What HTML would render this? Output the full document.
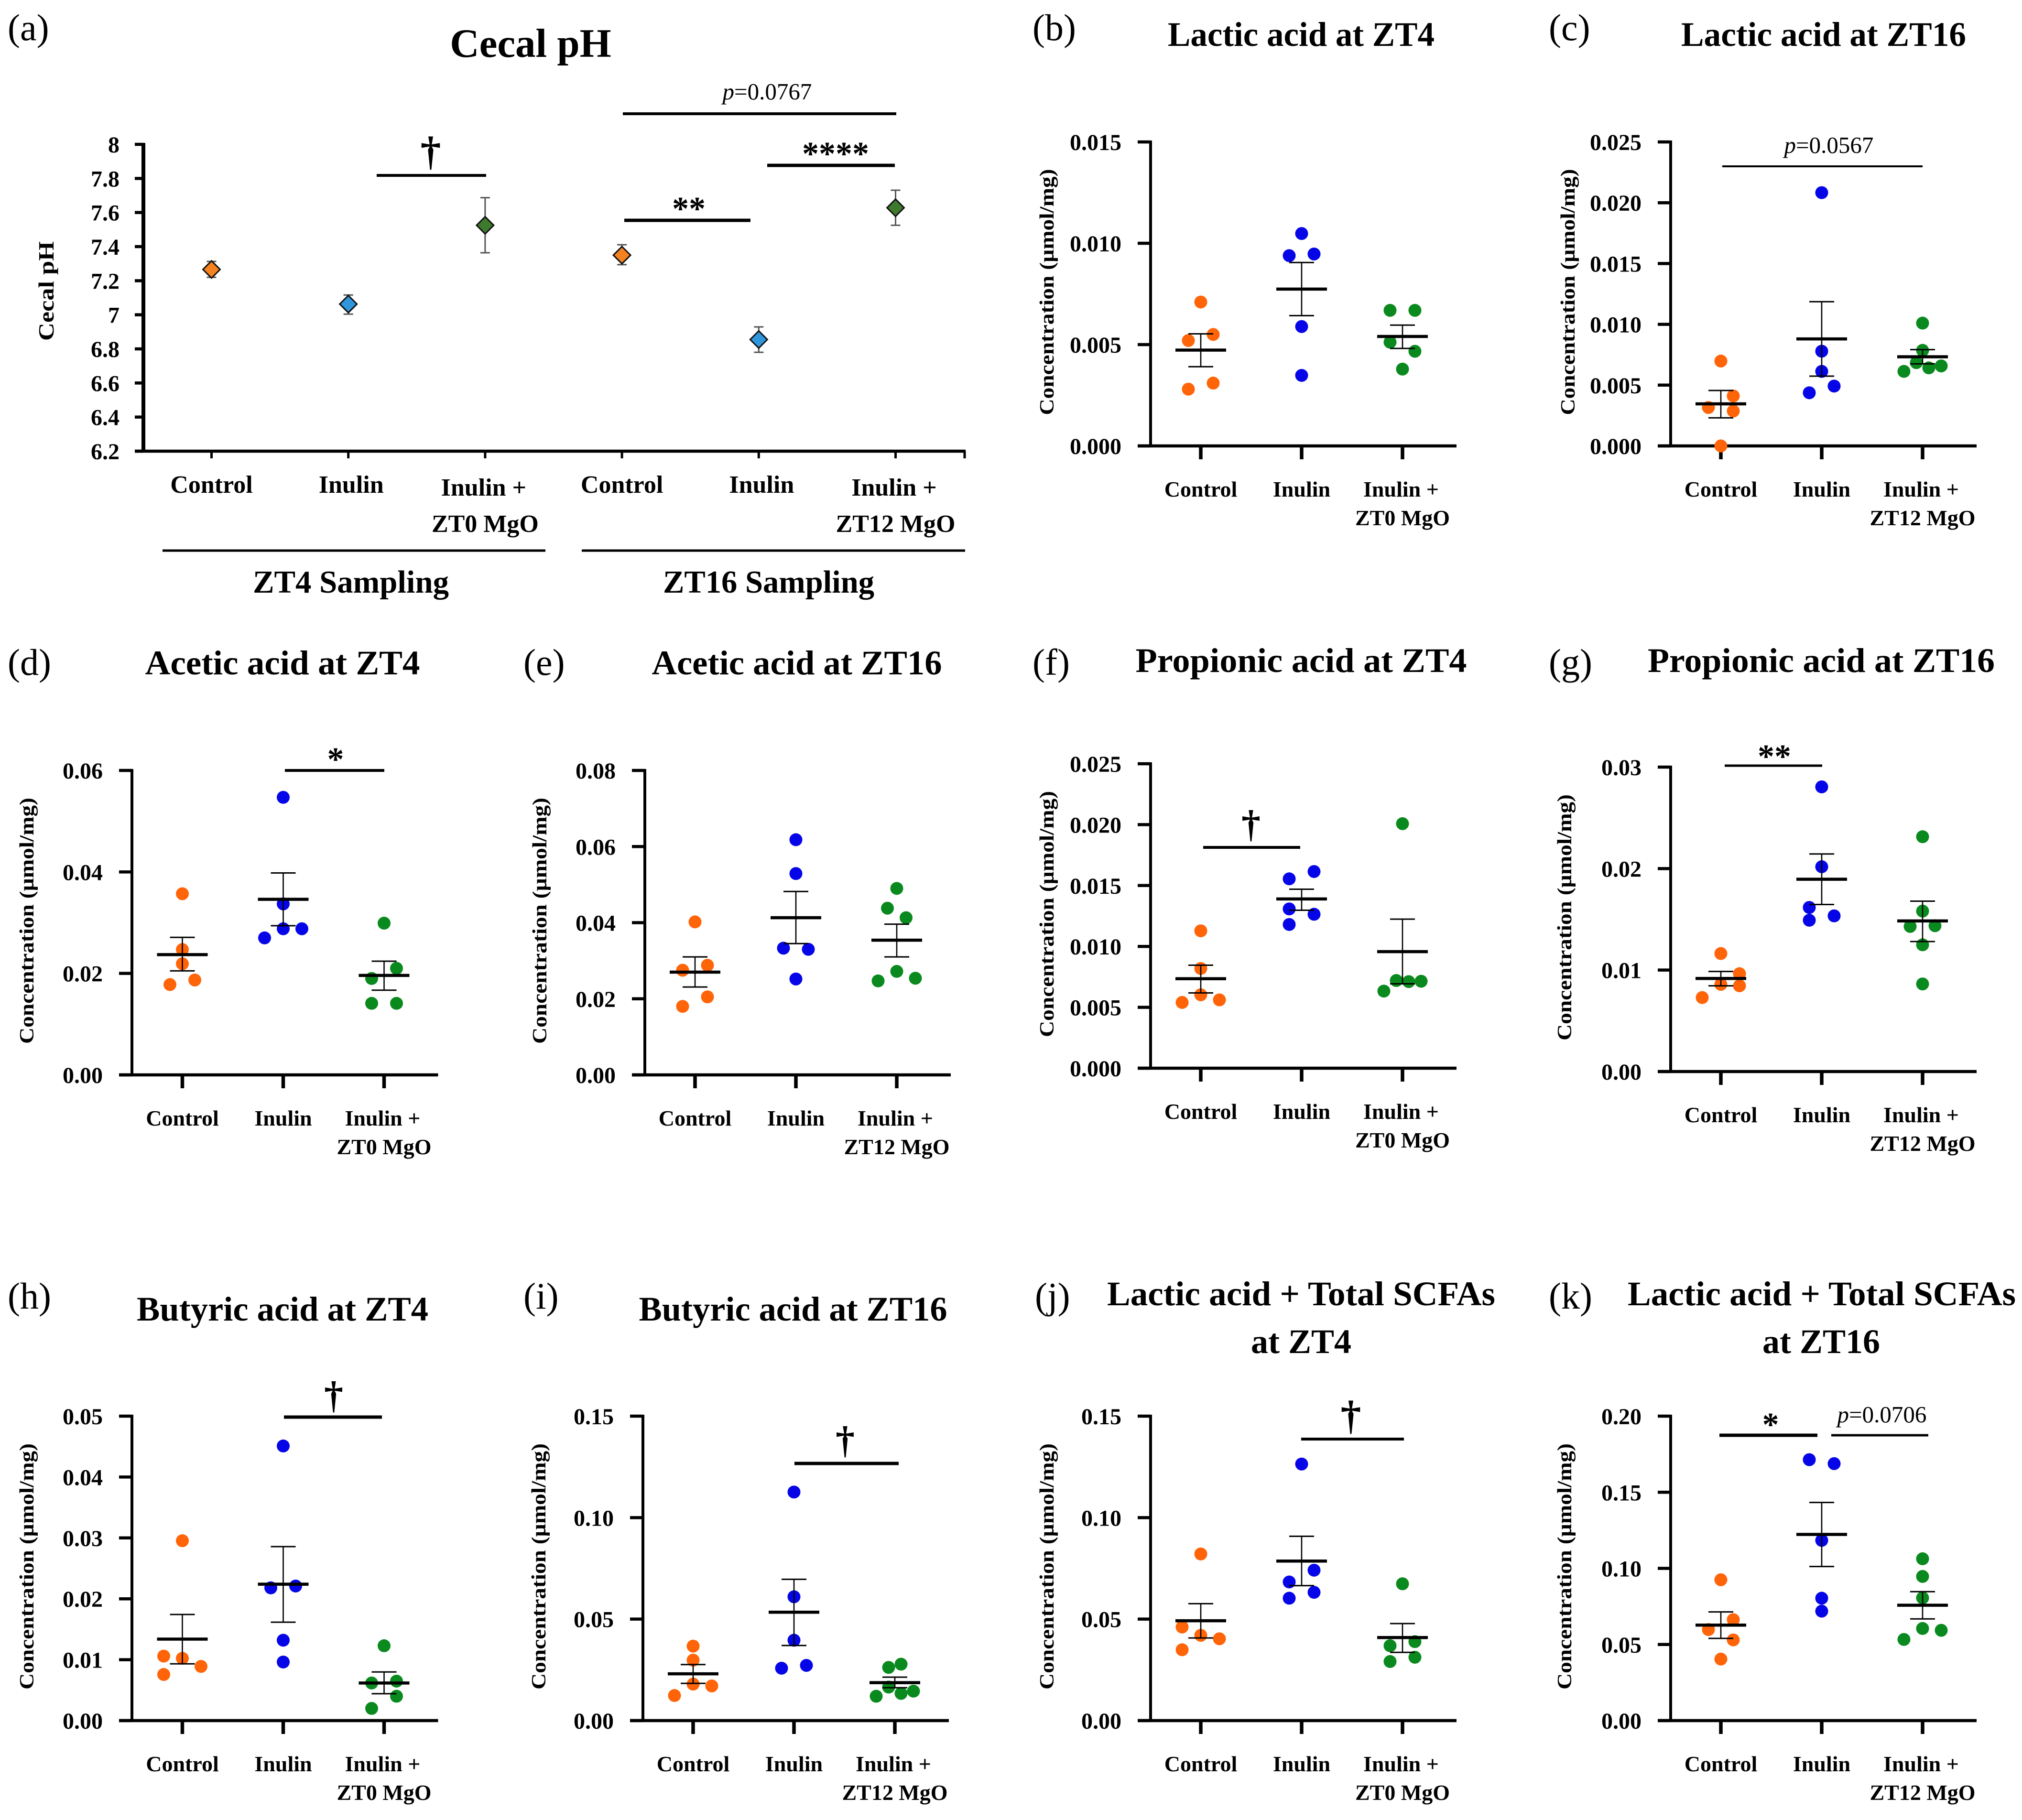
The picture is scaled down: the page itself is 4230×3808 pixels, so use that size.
<!DOCTYPE html>
<html>
<head>
<meta charset="utf-8">
<title>Cecal pH and organic acid concentrations</title>
<style>
html,body{margin:0;padding:0;background:#fff;}
svg{display:block;}
text{font-family:"Liberation Serif","DejaVu Serif",serif;fill:#000;}
.plabel{font-size:78px;}
.title{font-size:72px;font-weight:bold;text-anchor:middle;}
.ytitle{font-size:42px;font-weight:bold;text-anchor:middle;}
.tick{font-size:48px;font-weight:bold;text-anchor:end;}
.cat{font-size:46px;font-weight:bold;text-anchor:middle;}
.sym{font-weight:bold;text-anchor:middle;}
.pv{font-size:49px;text-anchor:middle;}
.k{stroke:#000;}
</style>
</head>
<body>
<svg id="figure" xmlns="http://www.w3.org/2000/svg" width="4230" height="3808" viewBox="0 0 4230 3808">
<rect x="0" y="0" width="4230" height="3808" fill="#fff"/>

<g>
<text class="plabel" x="16" y="84">(a)</text>
<text class="plabel" x="2160" y="84">(b)</text>
<text class="plabel" x="3240" y="84">(c)</text>
<text class="plabel" x="16" y="1412">(d)</text>
<text class="plabel" x="1095" y="1412">(e)</text>
<text class="plabel" x="2160" y="1412">(f)</text>
<text class="plabel" x="3240" y="1412">(g)</text>
<text class="plabel" x="16" y="2738">(h)</text>
<text class="plabel" x="1095" y="2738">(i)</text>
<text class="plabel" x="2165" y="2738">(j)</text>
<text class="plabel" x="3240" y="2738">(k)</text>
</g>

<g>
<text class="title" style="font-size:85px" x="1110" y="119">Cecal pH</text>
<text class="title" x="2722" y="96" textLength="558" lengthAdjust="spacingAndGlyphs">Lactic acid at ZT4</text>
<text class="title" x="3815" y="96" textLength="596" lengthAdjust="spacingAndGlyphs">Lactic acid at ZT16</text>
<text class="title" x="591" y="1411" textLength="575" lengthAdjust="spacingAndGlyphs">Acetic acid at ZT4</text>
<text class="title" x="1667" y="1411" textLength="607" lengthAdjust="spacingAndGlyphs">Acetic acid at ZT16</text>
<text class="title" x="2722" y="1406" textLength="693" lengthAdjust="spacingAndGlyphs">Propionic acid at ZT4</text>
<text class="title" x="3810" y="1406" textLength="726" lengthAdjust="spacingAndGlyphs">Propionic acid at ZT16</text>
<text class="title" x="591" y="2763" textLength="610" lengthAdjust="spacingAndGlyphs">Butyric acid at ZT4</text>
<text class="title" x="1659" y="2763" textLength="645" lengthAdjust="spacingAndGlyphs">Butyric acid at ZT16</text>
<text class="title" x="2722" y="2731" textLength="812" lengthAdjust="spacingAndGlyphs">Lactic acid + Total SCFAs</text>
<text class="title" x="2722" y="2831">at ZT4</text>
<text class="title" x="3811" y="2731" textLength="812" lengthAdjust="spacingAndGlyphs">Lactic acid + Total SCFAs</text>
<text class="title" x="3810" y="2831">at ZT16</text>
</g>

<g>
<line class="k" x1="340" y1="1152" x2="1141" y2="1152" stroke-width="5"/>
<line class="k" x1="1217" y1="1152" x2="2019" y2="1152" stroke-width="5"/>
<text class="title" style="font-size:67px" x="734" y="1240" textLength="410" lengthAdjust="spacingAndGlyphs">ZT4 Sampling</text>
<text class="title" style="font-size:67px" x="1608" y="1240" textLength="442" lengthAdjust="spacingAndGlyphs">ZT16 Sampling</text>
</g>

<g id="plots"></g>

<g>
<line class="k" x1="788" y1="367" x2="1017" y2="367" stroke-width="6"/>
<text class="sym" style="font-size:86px" x="901" y="345">†</text>
<line class="k" x1="1303" y1="238" x2="1875" y2="238" stroke-width="6"/>
<text class="pv" x="1605" y="208"><tspan font-style="italic">p</tspan>=0.0767</text>
<line class="k" x1="1605" y1="346" x2="1872" y2="346" stroke-width="7"/>
<text class="sym" style="font-size:70px" x="1748" y="345">****</text>
<line class="k" x1="1306" y1="461" x2="1570" y2="461" stroke-width="7"/>
<text class="sym" style="font-size:70px" x="1441" y="460">**</text>

<line class="k" x1="3603" y1="348" x2="4022" y2="348" stroke-width="4"/>
<text class="pv" x="3826" y="320"><tspan font-style="italic">p</tspan>=0.0567</text>

<line class="k" x1="596" y1="1612" x2="804" y2="1612" stroke-width="6"/>
<text class="sym" style="font-size:70px" x="702" y="1612">*</text>

<line class="k" x1="2517" y1="1773" x2="2720" y2="1773" stroke-width="6"/>
<text class="sym" style="font-size:80px" x="2617" y="1751">†</text>

<line class="k" x1="3608" y1="1602" x2="3812" y2="1602" stroke-width="5"/>
<text class="sym" style="font-size:70px" x="3712" y="1606">**</text>

<line class="k" x1="594" y1="2965" x2="799" y2="2965" stroke-width="7"/>
<text class="sym" style="font-size:80px" x="698" y="2946">†</text>

<line class="k" x1="1662" y1="3062" x2="1880" y2="3062" stroke-width="7"/>
<text class="sym" style="font-size:80px" x="1768" y="3040">†</text>

<line class="k" x1="2722" y1="3011" x2="2937" y2="3011" stroke-width="6"/>
<text class="sym" style="font-size:86px" x="2826" y="2990">†</text>

<line class="k" x1="3597" y1="3003" x2="3802" y2="3003" stroke-width="7"/>
<text class="sym" style="font-size:70px" x="3704" y="3004">*</text>
<line class="k" x1="3831" y1="3003" x2="4034" y2="3003" stroke-width="5"/>
<text class="pv" x="3937" y="2976"><tspan font-style="italic">p</tspan>=0.0706</text>
</g>
</svg>

<script>
// ---------- Panel (a): cecal pH ----------
const phCategories = ['Control', 'Inulin', 'Inulin +|ZT0 MgO', 'Control', 'Inulin', 'Inulin +|ZT12 MgO'];
const phMeans = [7.266, 7.063, 7.525, 7.35, 6.855, 7.628];
const phErrHigh = [7.313, 7.116, 7.687, 7.411, 6.929, 7.731];
const phErrLow = [7.22, 7.004, 7.364, 7.294, 6.78, 7.525];
const phTicks = [6.2, 6.4, 6.6, 6.8, 7, 7.2, 7.4, 7.6, 7.8, 8];
const phTickLabels = ['6.2', '6.4', '6.6', '6.8', '7', '7.2', '7.4', '7.6', '7.8', '8'];

// ---------- Shared categories ----------
const catsZT0 = ['Control', 'Inulin', 'Inulin +|ZT0 MgO'];
const catsZT12 = ['Control', 'Inulin', 'Inulin +|ZT12 MgO'];

// ---------- Panel (b) ----------
const bTicks = [0, 0.005, 0.01, 0.015];
const bTickLabels = ['0.000', '0.005', '0.010', '0.015'];
const bValues = [[0.0071, 0.0055, 0.0052, 0.0031, 0.0028], [0.01048, 0.00947, 0.00939, 0.00589, 0.00348], [0.00669, 0.00669, 0.00512, 0.00467, 0.00379]];
const bSpread = [[0, 1, -1, 1, -1], [0, 1, -1, 0, 0], [-1, 1, -1, 1, 0]];
const bMeans = [0.00473, 0.00774, 0.0054];
const bErrHigh = [0.00553, 0.00905, 0.00596];
const bErrLow = [0.00391, 0.00643, 0.00481];

// ---------- Panel (c) ----------
const cTicks = [0, 0.005, 0.01, 0.015, 0.02, 0.025];
const cTickLabels = ['0.000', '0.005', '0.010', '0.015', '0.020', '0.025'];
const cValues = [[0.00698, 0.00411, 0.00316, 0.00287, 0], [0.02083, 0.00779, 0.00613, 0.00492, 0.00437], [0.0101, 0.00786, 0.00685, 0.00642, 0.00658, 0.00613]];
const cSpread = [[0, 1, -1, 1, 0], [0, 0, 0, 1, -1], [0, 0, -0.5, 0.5, 1.5, -1.5]];
const cMeans = [0.00346, 0.0088, 0.00733];
const cErrHigh = [0.00456, 0.01186, 0.00792];
const cErrLow = [0.00231, 0.00574, 0.00675];

// ---------- Panel (d) ----------
const dTicks = [0, 0.02, 0.04, 0.06];
const dTickLabels = ['0.00', '0.02', '0.04', '0.06'];
const dValues = [[0.0357, 0.0247, 0.0219, 0.0187, 0.0178], [0.0547, 0.0337, 0.0288, 0.0288, 0.027], [0.0299, 0.021, 0.019, 0.0141, 0.0141]];
const dSpread = [[0, 0, 0, 1, -1], [0, 0, 0, 1.5, -1.5], [0, 1, -1, -1, 1]];
const dMeans = [0.0237, 0.0346, 0.0196];
const dErrHigh = [0.0271, 0.0398, 0.0224];
const dErrLow = [0.0205, 0.0294, 0.0167];

// ---------- Panel (e) ----------
const eTicks = [0, 0.02, 0.04, 0.06, 0.08];
const eTickLabels = ['0.00', '0.02', '0.04', '0.06', '0.08'];
const eValues = [[0.0402, 0.0288, 0.0275, 0.0205, 0.018], [0.0618, 0.0529, 0.0333, 0.033, 0.0252], [0.049, 0.0438, 0.0413, 0.0272, 0.0254, 0.0247]];
const eSpread = [[0, 1, -1, 1, -1], [0, 0, -1, 1, 0], [0, -0.75, 0.75, 0, 1.5, -1.5]];
const eMeans = [0.027, 0.0413, 0.0354];
const eErrHigh = [0.031, 0.0482, 0.0396];
const eErrLow = [0.0231, 0.0345, 0.031];

// ---------- Panel (f) ----------
const fTicks = [0, 0.005, 0.01, 0.015, 0.02, 0.025];
const fTickLabels = ['0.000', '0.005', '0.010', '0.015', '0.020', '0.025'];
const fValues = [[0.01128, 0.00819, 0.00603, 0.00561, 0.0054], [0.01615, 0.01555, 0.01308, 0.01264, 0.0118], [0.02008, 0.0072, 0.00711, 0.00714, 0.00633]];
const fSpread = [[0, 0, 0, 1.5, -1.5], [1, -1, -1, 1, -1], [0, -0.5, 0.5, 1.5, -1.5]];
const fMeans = [0.00735, 0.0139, 0.00957];
const fErrHigh = [0.00846, 0.0147, 0.01224];
const fErrLow = [0.00618, 0.01297, 0.00693];

// ---------- Panel (g) ----------
const gTicks = [0, 0.01, 0.02, 0.03];
const gTickLabels = ['0.00', '0.01', '0.02', '0.03'];
const gValues = [[0.01163, 0.00964, 0.00859, 0.00845, 0.00729], [0.02805, 0.02018, 0.01617, 0.01534, 0.01491], [0.02314, 0.01581, 0.01437, 0.0143, 0.01249, 0.00863]];
const gSpread = [[0, 1.5, 0, 1.5, -1.5], [0, 0, -1, 1, -1], [0, 0, 1, -1, 0, 0]];
const gMeans = [0.00917, 0.01895, 0.01484];
const gErrHigh = [0.00986, 0.02144, 0.01679];
const gErrLow = [0.00845, 0.01646, 0.01281];

// ---------- Panel (h) ----------
const hTicks = [0, 0.01, 0.02, 0.03, 0.04, 0.05];
const hTickLabels = ['0.00', '0.01', '0.02', '0.03', '0.04', '0.05'];
const hValues = [[0.02954, 0.01059, 0.01023, 0.0089, 0.00757], [0.0451, 0.0221, 0.0218, 0.0132, 0.00962], [0.01229, 0.00617, 0.00648, 0.004, 0.002]];
const hSpread = [[0, -1.5, 0, 1.5, -1.5], [0, 1, -1, 0, 0], [0, -1, 1, 1, -1]];
const hMeans = [0.01338, 0.0224, 0.00617];
const hErrHigh = [0.01743, 0.02857, 0.00799];
const hErrLow = [0.00932, 0.01616, 0.00442];

// ---------- Panel (i) ----------
const iTicks = [0, 0.05, 0.1, 0.15];
const iTickLabels = ['0.00', '0.05', '0.10', '0.15'];
const iValues = [[0.03668, 0.02978, 0.01798, 0.01707, 0.01235], [0.1126, 0.061, 0.0396, 0.0272, 0.0258], [0.0278, 0.0262, 0.0165, 0.0134, 0.0145, 0.012]];
const iSpread = [[0, 0, 0, 1.5, -1.5], [0, 0, 0, 1, -1], [0.5, -0.5, -0.5, 0.5, 1.5, -1.5]];
const iMeans = [0.02306, 0.0534, 0.0187];
const iErrHigh = [0.0276, 0.0696, 0.0214];
const iErrLow = [0.01834, 0.037, 0.0162];

// ---------- Panel (j) ----------
const jTicks = [0, 0.05, 0.1, 0.15];
const jTickLabels = ['0.00', '0.05', '0.10', '0.15'];
const jValues = [[0.0821, 0.0461, 0.042, 0.0403, 0.0349], [0.1264, 0.0741, 0.0683, 0.0632, 0.0603], [0.0674, 0.0389, 0.0369, 0.0312, 0.0291]];
const jSpread = [[0, -1.5, 0, 1.5, -1.5], [0, 1, -1, 1, -1], [0, 1, -1, 1, -1]];
const jMeans = [0.0492, 0.0786, 0.0409];
const jErrHigh = [0.0576, 0.0908, 0.0478];
const jErrLow = [0.0407, 0.0665, 0.0336];

// ---------- Panel (k) ----------
const kTicks = [0, 0.05, 0.1, 0.15, 0.2];
const kTickLabels = ['0.00', '0.05', '0.10', '0.15', '0.20'];
const kValues = [[0.0925, 0.0663, 0.0598, 0.053, 0.0404], [0.1714, 0.1688, 0.1184, 0.0804, 0.0719], [0.1063, 0.0947, 0.0806, 0.0605, 0.0593, 0.0533]];
const kSpread = [[0, 1, -1, 1, 0], [-1, 1, 0, 0, 0], [0, 0, 0, 0, 1.5, -1.5]];
const kMeans = [0.0627, 0.1223, 0.0758];
const kErrHigh = [0.0714, 0.1433, 0.0847];
const kErrLow = [0.054, 0.1012, 0.0668];

const dotColors = ['#ff6408', '#0505e8', '#0a8a1e'];
const diamondColors = ['#f58220', '#2f96dc', '#3d7a2e', '#f58220', '#2f96dc', '#3d7a2e'];
const SVGNS = 'http://www.w3.org/2000/svg';
const root = document.getElementById('plots');

function addLine(parent, x1, y1, x2, y2, w, color) {
  const l = document.createElementNS(SVGNS, 'line');
  l.setAttribute('x1', x1);
  l.setAttribute('y1', y1);
  l.setAttribute('x2', x2);
  l.setAttribute('y2', y2);
  l.setAttribute('stroke', color || '#000');
  l.setAttribute('stroke-width', w);
  parent.appendChild(l);
  return l;
}
function addText(parent, x, y, cls, str) {
  const t = document.createElementNS(SVGNS, 'text');
  t.setAttribute('x', x);
  t.setAttribute('y', y);
  t.setAttribute('class', cls);
  t.textContent = str;
  parent.appendChild(t);
  return t;
}
function makeScale(d0, d1, r0, r1) {
  return function (v) { return r0 + (v - d0) / (d1 - d0) * (r1 - r0); };
}
function addCategoryLabels(parent, label, x, yBase, size) {
  const parts = label.split('|');
  parts.forEach(function (p, j) {
    const shift = (parts.length > 1 && j === 0) ? -3 : 0;
    const t = addText(parent, x + shift, yBase + (j === 0 ? 0 : (size > 46 ? 76 : 60)), 'cat', p);
    t.setAttribute('style', 'font-size:' + size + 'px');
    
    
  });
}

function drawSwarmPanel(id, layout, ticks, tickLabels, categories, values, spread, means, errHigh, errLow) {
  const g = document.createElementNS(SVGNS, 'g');
  
  
  root.appendChild(g);

  const catStep = 211;
  const slot = 26;
  const y = makeScale(ticks[0], ticks[ticks.length - 1], layout.bottom, layout.top);
  const x = makeScale(0, 1, layout.first, layout.first + catStep);
  const right = x(2) + 113;

  const ymid = (layout.top + layout.bottom) / 2 - 4;
  const yt = addText(g, layout.tx, ymid + 14, 'ytitle', 'Concentration (µmol/mg)');
  yt.setAttribute('transform', 'rotate(-90 ' + layout.tx + ' ' + ymid + ')');
  yt.setAttribute('textLength', 515);
  yt.setAttribute('lengthAdjust', 'spacingAndGlyphs');
  
  

  ticks.forEach(function (t, i) {
    const tk = addLine(g, layout.axis - 27, y(t), layout.axis, y(t), 6.5);
    
    
    const lb = addText(g, layout.axis - 61, y(t) + 17, 'tick', tickLabels[i]);
    
    
  });

  const ya = addLine(g, layout.axis, layout.top - 3, layout.axis, layout.bottom + 3, 6);
  
  
  const xa = addLine(g, layout.axis - 27, layout.bottom, right, layout.bottom, 6.5);
  
  

  categories.forEach(function (c, i) {
    const tk = addLine(g, x(i), layout.bottom, x(i), layout.bottom + 28, 7.5);
    
    
    addCategoryLabels(g, c, x(i), layout.bottom + 106, 46);

    values[i].forEach(function (v, j) {
      const dot = document.createElementNS(SVGNS, 'circle');
      dot.setAttribute('cx', x(i) + spread[i][j] * slot);
      dot.setAttribute('cy', y(v));
      dot.setAttribute('r', 13.5);
      dot.setAttribute('fill', dotColors[i]);
      
      
      g.appendChild(dot);
    });

    const stem = addLine(g, x(i), y(errLow[i]), x(i), y(errHigh[i]), 2.6);
    
    
    const capTop = addLine(g, x(i) - 26, y(errHigh[i]), x(i) + 26, y(errHigh[i]), 3);
    
    
    const capBot = addLine(g, x(i) - 26, y(errLow[i]), x(i) + 26, y(errLow[i]), 3);
    
    
    const mean = addLine(g, x(i) - 53, y(means[i]), x(i) + 53, y(means[i]), 6.5);
    
    
  });
}

function drawPhPanel() {
  const g = document.createElementNS(SVGNS, 'g');
  
  
  root.appendChild(g);

  const axisX = 300, top = 302, bottom = 944, rightEnd = 2020;
  const y = makeScale(phTicks[0], phTicks[phTicks.length - 1], bottom, top);
  const x = makeScale(0, 1, 442.5, 728.7);

  const ymid = (bottom + top) / 2 - 14;
  const yt = addText(g, 97, ymid + 15, 'ytitle', 'Cecal pH');
  yt.setAttribute('transform', 'rotate(-90 97 ' + ymid + ')');
  yt.setAttribute('textLength', 208);
  yt.setAttribute('lengthAdjust', 'spacingAndGlyphs');
  yt.setAttribute('style', 'font-size:46px');
  
  

  phTicks.forEach(function (t, i) {
    const tk = addLine(g, axisX - 18, y(t), axisX, y(t), 6.5);
    
    
    const lb = addText(g, axisX - 50, y(t) + 17, 'tick', phTickLabels[i]);
    
    
  });

  const ya = addLine(g, axisX, top - 3, axisX, bottom + 3, 8);
  
  
  const xa = addLine(g, axisX - 18, bottom, rightEnd, bottom, 6.5);
  
  
  const endTick = addLine(g, rightEnd - 2, bottom, rightEnd - 2, bottom + 15, 5);
  
  

  phCategories.forEach(function (c, i) {
    const tk = addLine(g, x(i), bottom, x(i), bottom + 15, 5);
    
    
    const single = c.indexOf('|') < 0;
    addCategoryLabels(g, c, x(i) + (single && c === 'Inulin' ? 6 : 0), bottom + (single ? 87 : 93), 52);

    const stem = addLine(g, x(i), y(phErrLow[i]), x(i), y(phErrHigh[i]), 3, '#555');
    
    
    const capTop = addLine(g, x(i) - 10, y(phErrHigh[i]), x(i) + 10, y(phErrHigh[i]), 3, '#555');
    
    
    const capBot = addLine(g, x(i) - 10, y(phErrLow[i]), x(i) + 10, y(phErrLow[i]), 3, '#555');
    
    

    const cx = x(i), cy = y(phMeans[i]);
    const d = document.createElementNS(SVGNS, 'polygon');
    d.setAttribute('points', (cx - 18) + ',' + cy + ' ' + cx + ',' + (cy - 18) + ' ' + (cx + 18) + ',' + cy + ' ' + cx + ',' + (cy + 18));
    d.setAttribute('fill', diamondColors[i]);
    d.setAttribute('stroke', '#111');
    d.setAttribute('stroke-width', 3);
    
    
    g.appendChild(d);
  });
}

drawPhPanel();
drawSwarmPanel('b', {axis: 2407, first: 2512, tx: 2190, top: 297, bottom: 933}, bTicks, bTickLabels, catsZT0, bValues, bSpread, bMeans, bErrHigh, bErrLow);
drawSwarmPanel('c', {axis: 3495, first: 3600, tx: 3280, top: 297, bottom: 933}, cTicks, cTickLabels, catsZT12, cValues, cSpread, cMeans, cErrHigh, cErrLow);
drawSwarmPanel('d', {axis: 276, first: 381.5, tx: 56, top: 1612, bottom: 2249}, dTicks, dTickLabels, catsZT0, dValues, dSpread, dMeans, dErrHigh, dErrLow);
drawSwarmPanel('e', {axis: 1349, first: 1454, tx: 1129, top: 1612, bottom: 2249}, eTicks, eTickLabels, catsZT12, eValues, eSpread, eMeans, eErrHigh, eErrLow);
drawSwarmPanel('f', {axis: 2407, first: 2512, tx: 2190, top: 1598, bottom: 2235}, fTicks, fTickLabels, catsZT0, fValues, fSpread, fMeans, fErrHigh, fErrLow);
drawSwarmPanel('g', {axis: 3495, first: 3600, tx: 3273, top: 1605, bottom: 2242}, gTicks, gTickLabels, catsZT12, gValues, gSpread, gMeans, gErrHigh, gErrLow);
drawSwarmPanel('h', {axis: 276, first: 381.5, tx: 56, top: 2963, bottom: 3600}, hTicks, hTickLabels, catsZT0, hValues, hSpread, hMeans, hErrHigh, hErrLow);
drawSwarmPanel('i', {axis: 1345, first: 1450, tx: 1127, top: 2963, bottom: 3600}, iTicks, iTickLabels, catsZT12, iValues, iSpread, iMeans, iErrHigh, iErrLow);
drawSwarmPanel('j', {axis: 2407, first: 2512, tx: 2190, top: 2963, bottom: 3600}, jTicks, jTickLabels, catsZT0, jValues, jSpread, jMeans, jErrHigh, jErrLow);
drawSwarmPanel('k', {axis: 3495, first: 3600, tx: 3273, top: 2963, bottom: 3600}, kTicks, kTickLabels, catsZT12, kValues, kSpread, kMeans, kErrHigh, kErrLow);
</script>
</body>
</html>
